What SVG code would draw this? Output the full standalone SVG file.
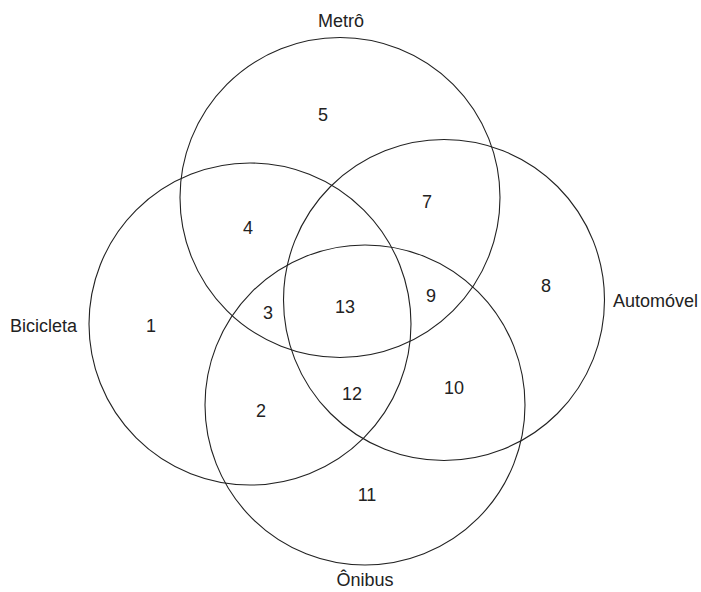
<svg xmlns="http://www.w3.org/2000/svg" width="701" height="592" viewBox="0 0 701 592">
<style>
.c{fill:none;stroke:#222;stroke-width:1.1}
text{font-family:"Liberation Sans",Arial,sans-serif;font-size:18px;fill:#222}
.m{text-anchor:middle}
</style>
<rect width="701" height="592" fill="#fff"/>
<g id="metro"><circle class="c" cx="340" cy="197.5" r="160"/><text class="m" x="341" y="27">Metrô</text></g>
<g id="bicicleta"><circle class="c" cx="250" cy="324" r="161"/><text x="10" y="332">Bicicleta</text></g>
<g id="automovel"><circle class="c" cx="444" cy="300" r="160.5"/><text x="613" y="307">Automóvel</text></g>
<g id="onibus"><circle class="c" cx="365" cy="405" r="160"/><text class="m" x="365" y="586">Ônibus</text></g>
<g id="regions">
<text class="m" x="323" y="121">5</text>
<text class="m" x="248" y="234">4</text>
<text class="m" x="427" y="208">7</text>
<text class="m" x="546" y="292">8</text>
<text class="m" x="151" y="332">1</text>
<text class="m" x="268" y="319">3</text>
<text class="m" x="345" y="313">13</text>
<text class="m" x="431" y="302">9</text>
<text class="m" x="352" y="400">12</text>
<text class="m" x="454" y="394">10</text>
<text class="m" x="261" y="417">2</text>
<text class="m" x="367" y="501">11</text>
</g>
</svg>
